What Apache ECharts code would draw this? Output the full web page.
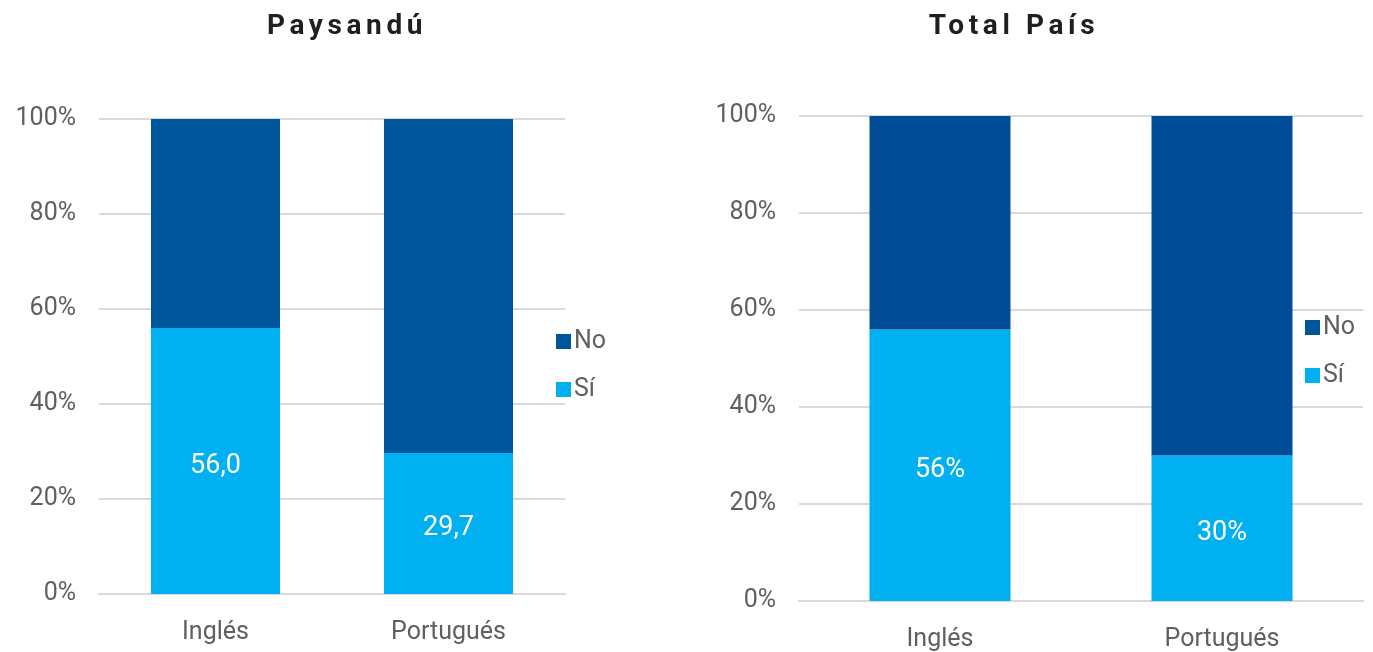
<!DOCTYPE html>
<html>
<head>
<meta charset="utf-8">
<script src="https://cdn.jsdelivr.net/npm/echarts@6/dist/echarts.min.js"></script>
<style>
  html, body { margin: 0; padding: 0; background: #fff; }
  #wrap { position: relative; width: 1373px; height: 652px; }
  #chart { position: absolute; left: 0; top: 0; width: 1373px; height: 652px; }
  .ttl { position: absolute; top: 8px; font-family: Roboto, "DejaVu Sans", sans-serif; font-weight: bold;
         font-size: 28px; letter-spacing: 4.6px; color: #1f1f1f; transform: translateX(-50%); white-space: nowrap; }
</style>
</head>
<body>
<div id="wrap">
  <div id="chart"></div>
  <div class="ttl" style="left:347px">Paysandú</div>
  <div class="ttl" style="left:1014px">Total País</div>
</div>
<script>
// Idiomas: proporción de personas que hablan cada lengua
const categories = ['Inglés', 'Portugués'];
const yTicks = [0, 20, 40, 60, 80, 100];

// Paysandú
const paysanduSi = [56.0, 29.7];
const paysanduNo = [44.0, 70.3];

// Total País
const paisSi = [56, 30];
const paisNo = [44, 70];

const FONT = 'Roboto, "DejaVu Sans", sans-serif';
const GREY = '#5f5f5f';
const LIGHT = '#00B0F0';
const DARK_L = '#00569A';
const DARK_R = '#004C97';
const FS = 25;

function yAxis(gridIndex) {
  return {
    type: 'value', gridIndex, min: yTicks[0], max: yTicks[yTicks.length - 1], interval: yTicks[1] - yTicks[0],
    axisLabel: { formatter: v => v + '%', color: GREY, fontSize: FS, fontFamily: FONT, margin: 23,
                 padding: [5, 0, 0, 0] },
    axisLine: { show: false }, axisTick: { show: false },
    splitLine: { lineStyle: { color: '#d9d9d9', width: 2 } }
  };
}
function xAxis(gridIndex, margin) {
  return {
    type: 'category', gridIndex, data: categories,
    axisLabel: { color: GREY, fontSize: FS, fontFamily: FONT, margin },
    axisLine: { lineStyle: { color: '#d9d9d9', width: 2 } },
    axisTick: { show: false }
  };
}
const labelStyle = { color: '#ffffff', fontSize: 27, fontFamily: FONT, offset: [0, 5] };
const legendText = { color: GREY, fontSize: FS, fontFamily: FONT, padding: [0, 0, 0, -2] };

const option = {
  animation: false,
  grid: [
    { left: 99, right: 808, top: 119, bottom: 58 },
    { left: 799, right: 10, top: 116, bottom: 51 }
  ],
  xAxis: [xAxis(0, 26), xAxis(1, 26)],
  yAxis: [yAxis(0), yAxis(1)],
  legend: [
    { orient: 'vertical', left: 551, top: 324, itemWidth: 15, itemHeight: 15, itemGap: 23,
      icon: 'rect', data: ['No', 'Sí'], textStyle: legendText },
    { orient: 'vertical', left: 1300, top: 310, itemWidth: 15, itemHeight: 15, itemGap: 23,
      icon: 'rect', data: ['No', 'Sí'], textStyle: legendText }
  ],
  series: [
    { name: 'Sí', type: 'bar', stack: 'a', xAxisIndex: 0, yAxisIndex: 0, data: paysanduSi, barWidth: 129,
      itemStyle: { color: LIGHT },
      label: { show: true, position: 'inside', ...labelStyle, formatter: p => p.value.toFixed(1).replace('.', ',') } },
    { name: 'No', type: 'bar', stack: 'a', xAxisIndex: 0, yAxisIndex: 0, data: paysanduNo, barWidth: 129,
      itemStyle: { color: DARK_L } },
    { name: 'Sí', type: 'bar', stack: 'b', xAxisIndex: 1, yAxisIndex: 1, data: paisSi, barWidth: 141,
      itemStyle: { color: LIGHT },
      label: { show: true, position: 'inside', ...labelStyle, formatter: p => Math.round(p.value) + '%' } },
    { name: 'No', type: 'bar', stack: 'b', xAxisIndex: 1, yAxisIndex: 1, data: paisNo, barWidth: 141,
      itemStyle: { color: DARK_R } }
  ]
};
const chart = echarts.init(document.getElementById('chart'), null, { renderer: 'canvas' });
chart.setOption(option);
</script>
</body>
</html>
